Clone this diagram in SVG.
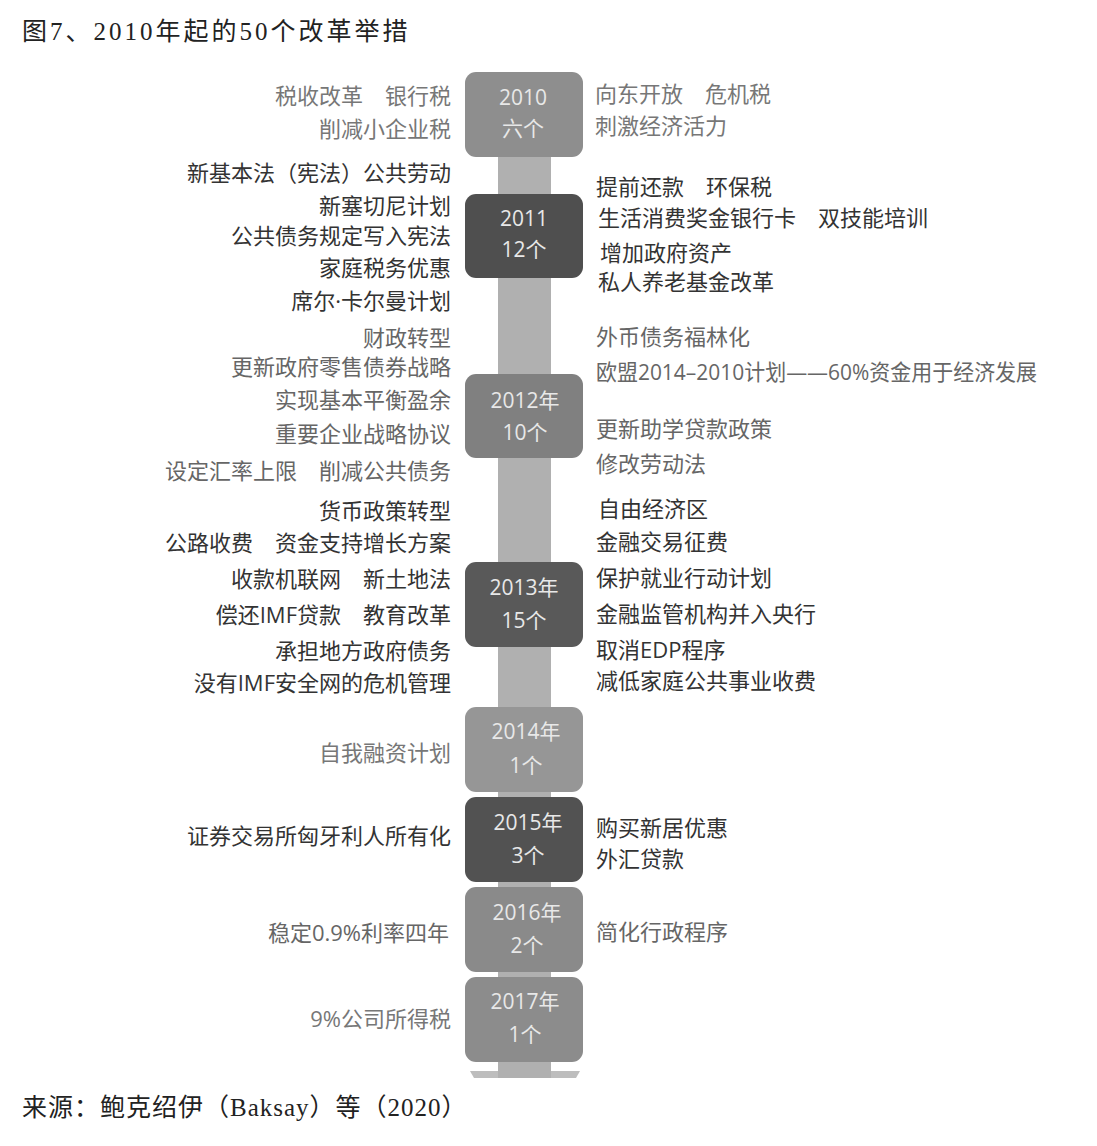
<svg xmlns="http://www.w3.org/2000/svg" width="1097" height="1146" viewBox="0 0 1097 1146">
<style>
.t{font-family:"Open Sans","Noto Sans CJK SC",sans-serif;font-size:22px}
.l{text-anchor:end}
.g{fill:#777}
.d{fill:#333}
.m{fill:#666}
.y{font-family:"Open Sans","Noto Sans CJK SC",sans-serif;font-size:21px;fill:#e8e8e8;text-anchor:middle}
.s{font-family:"Liberation Serif","Noto Sans CJK SC",serif;font-size:25px;fill:#222}
</style>
<rect width="1097" height="1146" fill="#fff"/>
<text class="s" x="22" y="40" letter-spacing="3">图7、2010年起的50个改革举措</text>
<g id="connectors">
<polygon points="470,1071 580,1071 576,1078 474,1078" fill="#bdbdbd"/>
<rect x="498" y="150" width="53" height="928" fill="#b0b0b0"/>
</g>
<g id="y2010"><rect x="465" y="72" width="118" height="85" rx="11" fill="#8e8e8e"/><text class="y" x="523" y="105">2010</text><text class="y" x="523" y="136">六个</text></g>
<g id="y2011"><rect x="465" y="194" width="118" height="84" rx="11" fill="#4f4f4f"/><text class="y" x="524" y="226">2011</text><text class="y" x="524" y="257">12个</text></g>
<g id="y2012"><rect x="465" y="374" width="118" height="84" rx="11" fill="#808080"/><text class="y" x="525" y="408">2012年</text><text class="y" x="525" y="440">10个</text></g>
<g id="y2013"><rect x="465" y="562" width="118" height="85" rx="11" fill="#595959"/><text class="y" x="524" y="595">2013年</text><text class="y" x="524" y="628">15个</text></g>
<g id="y2014"><rect x="465" y="707" width="118" height="85" rx="11" fill="#969696"/><text class="y" x="526" y="739">2014年</text><text class="y" x="526" y="773">1个</text></g>
<g id="y2015"><rect x="465" y="797" width="118" height="85" rx="11" fill="#525252"/><text class="y" x="528" y="830">2015年</text><text class="y" x="528" y="863">3个</text></g>
<g id="y2016"><rect x="465" y="887" width="118" height="85" rx="11" fill="#8a8a8a"/><text class="y" x="527" y="920">2016年</text><text class="y" x="527" y="953">2个</text></g>
<g id="y2017"><rect x="465" y="977" width="118" height="85" rx="11" fill="#8c8c8c"/><text class="y" x="525" y="1009">2017年</text><text class="y" x="525" y="1042">1个</text></g>
<g id="left">
<text class="t l g" x="451" y="104">税收改革　银行税</text>
<text class="t l g" x="451" y="137">削减小企业税</text>
<text class="t l d" x="451" y="181">新基本法（宪法）公共劳动</text>
<text class="t l d" x="451" y="214">新塞切尼计划</text>
<text class="t l d" x="451" y="244">公共债务规定写入宪法</text>
<text class="t l d" x="451" y="276">家庭税务优惠</text>
<text class="t l d" x="451" y="309">席尔·卡尔曼计划</text>
<text class="t l m" x="451" y="346">财政转型</text>
<text class="t l m" x="451" y="375">更新政府零售债券战略</text>
<text class="t l m" x="451" y="408">实现基本平衡盈余</text>
<text class="t l m" x="451" y="442">重要企业战略协议</text>
<text class="t l m" x="451" y="479">设定汇率上限　削减公共债务</text>
<text class="t l d" x="451" y="519">货币政策转型</text>
<text class="t l d" x="451" y="551">公路收费　资金支持增长方案</text>
<text class="t l d" x="451" y="587">收款机联网　新土地法</text>
<text class="t l d" x="451" y="623">偿还IMF贷款　教育改革</text>
<text class="t l d" x="451" y="659">承担地方政府债务</text>
<text class="t l d" x="451" y="691">没有IMF安全网的危机管理</text>
<text class="t l g" x="451" y="761">自我融资计划</text>
<text class="t l d" x="451" y="844">证券交易所匈牙利人所有化</text>
<text class="t l m" x="449" y="941">稳定0.9%利率四年</text>
<text class="t l g" x="451" y="1027">9%公司所得税</text>
</g>
<g id="right">
<text class="t g" x="595" y="102">向东开放　危机税</text>
<text class="t g" x="595" y="134">刺激经济活力</text>
<text class="t d" x="596" y="195">提前还款　环保税</text>
<text class="t d" x="598" y="226">生活消费奖金银行卡　双技能培训</text>
<text class="t d" x="600" y="261">增加政府资产</text>
<text class="t d" x="598" y="290">私人养老基金改革</text>
<text class="t m" x="596" y="345">外币债务福林化</text>
<text class="t m" x="596" y="380" textLength="441" lengthAdjust="spacingAndGlyphs">欧盟2014–2010计划——60%资金用于经济发展</text>
<text class="t m" x="596" y="437">更新助学贷款政策</text>
<text class="t m" x="596" y="472">修改劳动法</text>
<text class="t d" x="598" y="517">自由经济区</text>
<text class="t d" x="596" y="550">金融交易征费</text>
<text class="t d" x="596" y="586">保护就业行动计划</text>
<text class="t d" x="596" y="622">金融监管机构并入央行</text>
<text class="t d" x="596" y="658">取消EDP程序</text>
<text class="t d" x="596" y="689">减低家庭公共事业收费</text>
<text class="t d" x="596" y="836">购买新居优惠</text>
<text class="t d" x="596" y="867">外汇贷款</text>
<text class="t m" x="596" y="940">简化行政程序</text>
</g>
<text class="s" x="22" y="1116" letter-spacing="1">来源：鲍克绍伊（Baksay）等（2020）</text>
</svg>
